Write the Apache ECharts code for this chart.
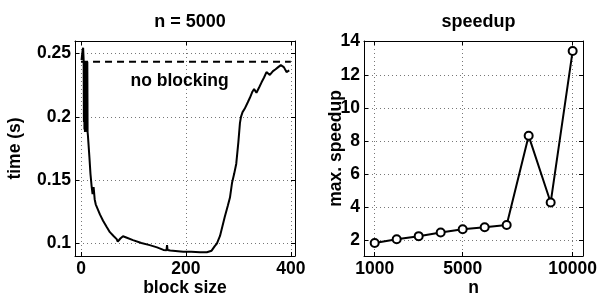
<!DOCTYPE html>
<html>
<head>
<meta charset="utf-8">
<script src="https://cdn.jsdelivr.net/npm/echarts@6/dist/echarts.min.js"></script>
<style>
html,body{margin:0;padding:0;background:#fff;}
#main{width:612px;height:302px;}
</style>
</head>
<body>
<div id="main"></div>
<script>
// ---- data ----
const blockSizes = [1,2,3,4,5,5.5,6,6.5,7,7.5,8,8.5,9,9.5,10,10.5,11,11.5,12,12.5,13,14,16,18,20,22,24,25,26,28,32,36,42,49,55,62,68,70,75,80,85,99,115,131,145,157,163,164,165,170,180,195,210,227,240,249,255,259,265,274,280,284,288,292,296,300,303,305,308,312,318,322,327,330,334.5,340,344,349,353.6,360,366,371,376,381,386.7,391.8,397];
const times = [0.2448,0.246,0.2525,0.2545,0.245,0.196,0.244,0.19,0.2435,0.188,0.2438,0.192,0.2435,0.19,0.2435,0.189,0.2436,0.188,0.2435,0.188,0.186,0.18,0.168,0.155,0.146,0.139,0.1445,0.1455,0.135,0.131,0.127,0.123,0.118,0.113,0.109,0.106,0.1035,0.1015,0.104,0.1058,0.105,0.1027,0.1005,0.0988,0.097,0.095,0.0948,0.0988,0.095,0.0945,0.0942,0.0936,0.0935,0.0931,0.0932,0.0944,0.098,0.1,0.106,0.121,0.13,0.1363,0.148,0.155,0.163,0.18,0.195,0.2,0.2037,0.2063,0.2115,0.215,0.22,0.2218,0.219,0.2235,0.227,0.231,0.2353,0.233,0.236,0.2375,0.2392,0.2408,0.2392,0.2353,0.2366];
const noBlockingTime = 0.2435;
const noBlockingRange = [0, 400];
const noBlockingLabel = 'no blocking';
const noBlockingLabelPos = [188, 0.2285];
const nValues = [1000,2000,3000,4000,5000,6000,7000,8000,9000,10000];
const speedups = [1.84,2.06,2.25,2.47,2.67,2.79,2.92,8.31,4.28,13.44];
const leftXTicks = [0,200,400];
const leftYTicks = [0.1,0.15,0.2,0.25];
const rightXTicks = [1000,5000,10000];
const rightYTicks = [2,4,6,8,10,12,14];

const FONT = 'Liberation Sans, Arial, sans-serif';
const chart = echarts.init(document.getElementById('main'), null, {renderer:'canvas'});

const lbl = {fontFamily: FONT, fontWeight:'bold', fontSize:17.5, color:'#000'};
const gridLine = {show:true, lineStyle:{color:'#777', type:[1,3], width:1}};
const plain = v => String(+v.toFixed(6));

function mainX(gridIndex, min, max, ticks, name){
  return {type:'value', gridIndex, min, max, position:'bottom',
    name, nameLocation:'middle', nameGap:23, nameMoveOverlap:false, nameTextStyle:Object.assign({}, lbl),
    axisLine:{show:true, onZero:false, lineStyle:{color:'#000', width:1}},
    axisTick:{show:true, inside:true, length:4, customValues:ticks, lineStyle:{color:'#000'}},
    axisLabel:Object.assign({show:true, margin:4, customValues:ticks, formatter:plain}, lbl),
    splitLine:gridLine};
}
function mainY(gridIndex, min, max, ticks, name, gap){
  return {type:'value', gridIndex, min, max, position:'left',
    name, nameLocation:'middle', nameGap:gap, nameMoveOverlap:false, nameTextStyle:Object.assign({}, lbl),
    axisLine:{show:true, onZero:false, lineStyle:{color:'#000', width:1}},
    axisTick:{show:true, inside:true, length:4, customValues:ticks, lineStyle:{color:'#000'}},
    axisLabel:Object.assign({show:true, margin:4, customValues:ticks, formatter:plain}, lbl),
    splitLine:gridLine};
}
function mirror(gridIndex, min, max, ticks, pos){
  return {type:'value', gridIndex, min, max, position:pos,
    axisLine:{show:true, onZero:false, lineStyle:{color:'#000', width:1}},
    axisTick:{show:true, inside:true, length:4, customValues:ticks, lineStyle:{color:'#000'}},
    axisLabel:{show:false}, splitLine:{show:false}};
}

const option = {
  animation:false,
  backgroundColor:'#fff',
  title:[
    {text:'n = 5000', left:185, top:8, textAlign:'center', textStyle:Object.assign({}, lbl, {fontSize:18})},
    {text:'speedup', left:473.5, top:8, textAlign:'center', textStyle:Object.assign({}, lbl, {fontSize:18})}
  ],
  grid:[
    {left:75, top:41, width:220, height:218},
    {left:364, top:41, width:219, height:218}
  ],
  xAxis:[
    mainX(0, -11.5, 408, leftXTicks, 'block size'),
    mirror(0, -11.5, 408, leftXTicks, 'top'),
    mainX(1, 514, 10470, rightXTicks, 'n'),
    mirror(1, 514, 10470, rightXTicks, 'top')
  ],
  yAxis:[
    mainY(0, 0.0902, 0.2598, leftYTicks, 'time (s)', 51),
    mirror(0, 0.0902, 0.2598, leftYTicks, 'right'),
    mainY(1, 1.05, 14.04, rightYTicks, 'max. speedup', 19),
    mirror(1, 1.05, 14.04, rightYTicks, 'right')
  ],
  series:[
    {type:'line', xAxisIndex:0, yAxisIndex:0, showSymbol:false, symbol:'none',
      data: blockSizes.map((b,i)=>[b, times[i]]),
      lineStyle:{color:'#000', width:2}, z:3},
    {type:'line', xAxisIndex:0, yAxisIndex:0, symbol:'none',
      data: noBlockingRange.map(x=>[x, noBlockingTime]),
      lineStyle:{color:'#000', width:2, type:[7,5]}},
    {type:'scatter', xAxisIndex:0, yAxisIndex:0, symbol:'circle', symbolSize:0,
      itemStyle:{color:'#000'},
      data:[{value:noBlockingLabelPos, name:noBlockingLabel}],
      label:{show:true, position:'inside', formatter:'{b}', fontFamily:FONT, fontWeight:'bold', fontSize:17.5, color:'#000', textBorderWidth:0, opacity:1},
      silent:true},
    {type:'line', xAxisIndex:2, yAxisIndex:2, symbol:'emptyCircle', symbolSize:8,
      data: nValues.map((n,i)=>[n, speedups[i]]),
      lineStyle:{color:'#000', width:2},
      itemStyle:{color:'#000', borderColor:'#000', borderWidth:2}}
  ]
};
chart.setOption(option);
</script>
</body>
</html>
